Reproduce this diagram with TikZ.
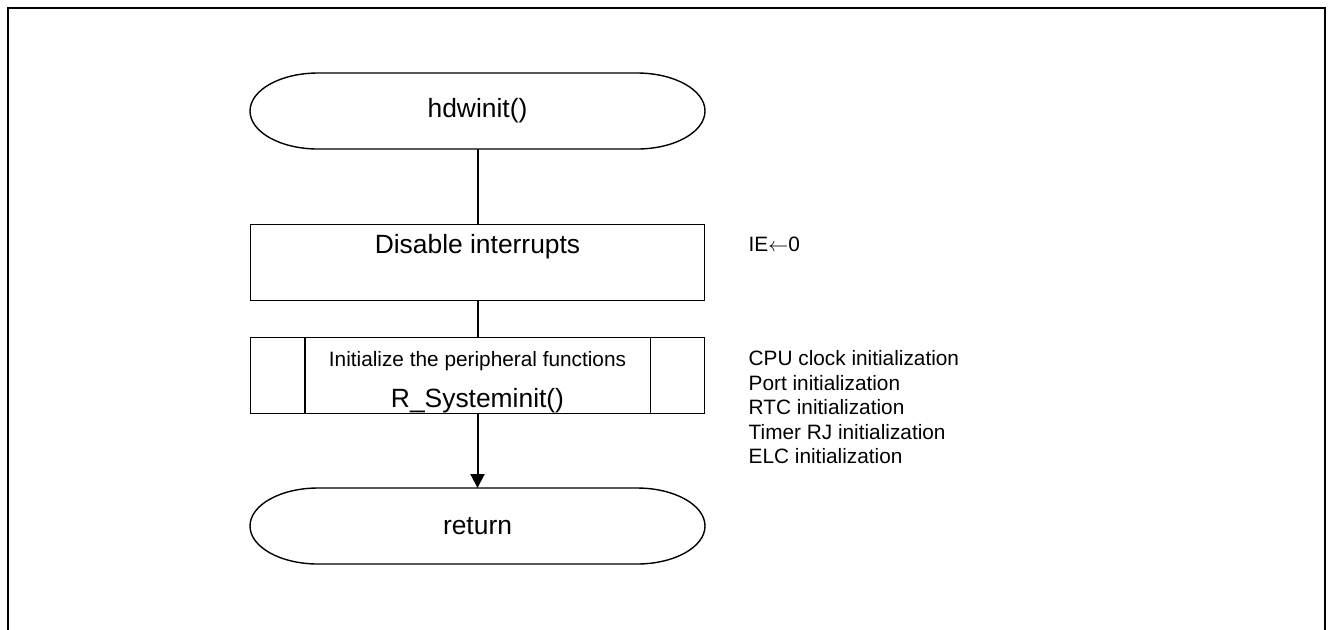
\documentclass[tikz,border=0pt]{standalone}
\usepackage{fontspec}
\setmainfont{Liberation Sans}
\usetikzlibrary{arrows.meta}

\newcommand{\flowfont}{\fontsize{13.2}{15.8}\selectfont}
\newcommand{\notefont}{\fontsize{10.4}{12.5}\selectfont}

% outline of a terminal (flat top and bottom, half-ellipse ends)
\newcommand{\drawterm}[1]{%
  \draw ([xshift=34pt]#1.north west) -- ([xshift=-34pt]#1.north east)
    arc[start angle=90, end angle=-90, x radius=34pt, y radius=19pt]
    -- ([xshift=34pt]#1.south west)
    arc[start angle=270, end angle=90, x radius=34pt, y radius=19pt] -- cycle;}

\begin{document}
\begin{tikzpicture}[x=0.5pt, y=-0.5pt, line width=0.7pt,
  flowterm/.style={minimum width=227.5pt, minimum height=38pt, inner sep=0pt, outer sep=0pt, font=\flowfont},
  flowbox/.style={draw, minimum width=227pt, minimum height=38pt, inner sep=0pt, font=\flowfont},
  note/.style={inner sep=0pt, anchor=base west, font=\notefont},
  conn/.style={line width=1pt}]
  \def\xmid{477.5}
  \def\xnote{748}
  \def\lsep{24.5}

  \useasboundingbox (0,0) rectangle (1328,629);

  % frame
  \draw[line width=1.1pt] (8,640) -- (8,8) -- (1325,8) -- (1325,640);

  \node[flowterm] (hw)  at (\xmid, 111) {hdwinit()};
  \node[flowbox, anchor=north, text height=14.5pt, text depth=23.5pt] (dis) at (\xmid, 224) {Disable interrupts};
  \node[flowbox, anchor=north, align=center, text height=34.75pt, text depth=3.25pt] (sub) at (\xmid, 337)
    {{\notefont Initialize the peripheral functions}\\[4.5pt]R\_Systeminit()};
  \node[flowterm] (ret) at (\xmid, 526) {return};

  \drawterm{hw}
  \drawterm{ret}
  \draw ([xshift=27.5pt]sub.north west) -- ([xshift=27.5pt]sub.south west);
  \draw ([xshift=-27.5pt]sub.north east) -- ([xshift=-27.5pt]sub.south east);

  \node[note] (ie)  at (\xnote, 251.5) {IE$\leftarrow$0};
  \node[note] (cpu) at (\xnote, {365.5+0*\lsep}) {CPU clock initialization};
  \node[note] (prt) at (\xnote, {365.5+1*\lsep}) {Port initialization};
  \node[note] (rtc) at (\xnote, {365.5+2*\lsep}) {RTC initialization};
  \node[note] (trj) at (\xnote, {365.5+3*\lsep}) {Timer RJ initialization};
  \node[note] (elc) at (\xnote, {365.5+4*\lsep}) {ELC initialization};

  \draw[conn] (hw) -- (dis);
  \draw[conn] (dis) -- (sub);
  \draw[conn, -{Triangle[length=7pt, width=7pt]}] (sub) -- (ret);
\end{tikzpicture}
\end{document}
